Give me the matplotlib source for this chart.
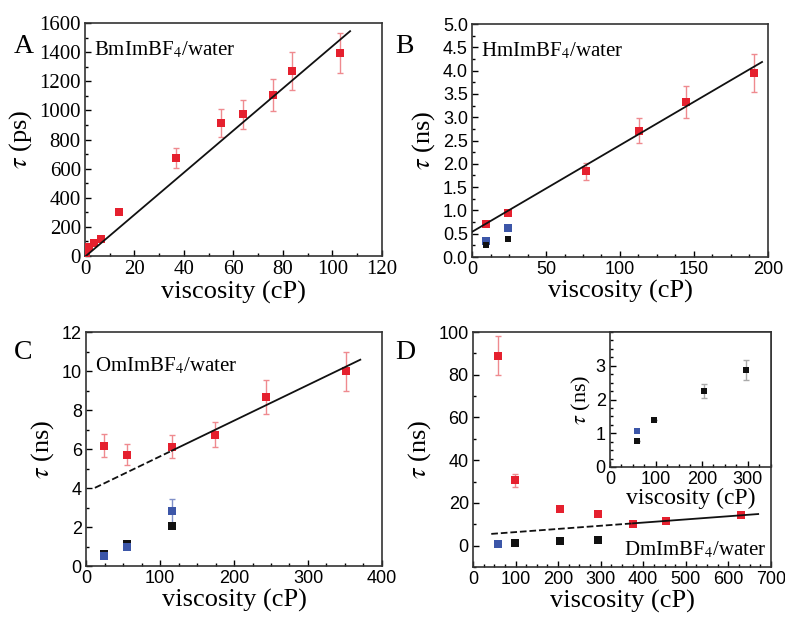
import matplotlib
matplotlib.use("Agg")
import matplotlib.pyplot as plt
from matplotlib.ticker import MultipleLocator
import numpy as np

plt.rcParams['mathtext.fontset'] = 'stix'
SERIF = 'Liberation Serif'
SANS = 'Liberation Sans'

RED = '#e5202e'
ERRRED = '#ef8a8f'
BLUE = '#3c56a8'
BLACK = '#111111'

# ---------------- Panel A data ----------------
a_x = [0.4, 1.0, 1.8, 3.8, 6.5, 13.9, 36.7, 55.0, 63.8, 76.2, 83.9, 103.1]
a_y = [20, 45, 65, 87, 114, 300, 674, 914, 974, 1104, 1269, 1394]
a_err = [0, 0, 0, 0, 0, 0, 70, 95, 100, 110, 130, 140]
a_fit_x = [0.5, 107.2]
a_fit_slope = 14.45
a_fit_icpt = -5.0

# ---------------- Panel B data ----------------
b_x = [9.7, 24.1, 77.0, 112.6, 144.8, 190.8]
b_red = [0.71, 0.94, 1.84, 2.71, 3.33, 3.95]
b_red_err = [0, 0, 0.18, 0.27, 0.35, 0.40]
b_x2 = [9.7, 24.1]
b_blue = [0.34, 0.62]
b_black = [0.25, 0.39]
b_fit_x = [0, 196]
b_fit_slope = 0.0186
b_fit_icpt = 0.54

# ---------------- Panel C data ----------------
c_x = [24.8, 55.5, 116, 174, 243, 351.7]
c_red = [6.17, 5.71, 6.12, 6.74, 8.67, 9.98]
c_red_err = [0.6, 0.55, 0.6, 0.65, 0.85, 1.0]
c_x2 = [24.8, 55.5, 116]
c_blue = [0.51, 0.96, 2.83]
c_blue_err = [0, 0, 0.6]
c_black = [0.63, 1.15, 2.06]
c_fit_dash = [12, 116]
c_fit_solid = [116, 370.7]
c_fit_slope = 0.01832
c_fit_icpt = 3.79

# ---------------- Panel D data ----------------
d_x = [58.8, 98, 204.6, 294, 376, 453, 628.7]
d_red = [89, 30.5, 17.2, 14.8, 10.2, 11.4, 14.4]
d_red_err = [9, 3, 0, 0, 0, 0, 0]
d_blue_x = [58.8]
d_blue = [0.8]
d_black_x = [98, 204.6, 294]
d_black = [1.4, 2.3, 2.8]
d_fit_dash = [43, 376]
d_fit_solid = [376, 670]
d_fit_slope = 0.01483
d_fit_icpt = 4.86

# inset
i_blue_x = [58]
i_blue = [1.06]
i_black_x = [58, 96, 205, 295]
i_black = [0.77, 1.39, 2.25, 2.87]
i_black_err = [0, 0, 0.2, 0.3]

fig = plt.figure(figsize=(7.85, 6.19), dpi=100)

def style(ax, tickfont, ticksize):
    ax.tick_params(which='both', direction='in', top=False, right=False,
                   labelsize=ticksize, width=1.0, pad=3)
    ax.tick_params(which='major', length=4)
    ax.tick_params(which='minor', length=2)
    for lab in ax.get_xticklabels() + ax.get_yticklabels():
        lab.set_fontfamily(tickfont)
    for s in ax.spines.values():
        s.set_linewidth(1.2)
        s.set_color('#333333')

def labels(ax, unit):
    ax.set_xlabel('viscosity (cP)', family=SERIF, fontsize=19, labelpad=1)
    ax.set_ylabel(r'$\tau$ (' + unit + ')', family=SERIF, fontsize=19, labelpad=4)

def sq(ax, x, y, c, err=None, ecolor=ERRRED, ms=6):
    if err is not None:
        ax.errorbar(x, y, yerr=err, fmt='none', ecolor=ecolor, elinewidth=1,
                    capsize=2.5, capthick=1, zorder=2)
    ax.plot(x, y, 's', color=c, ms=ms, mew=0, zorder=3)

def fit(ax, xs, slope, icpt, ls='-'):
    xs = np.array(xs, dtype=float)
    ax.plot(xs, slope * xs + icpt, ls, color='#111111', lw=1.3, zorder=4)

# ---- A ----
axA = fig.add_axes([0.1083, 0.5864, 0.378, 0.3764])
sq(axA, a_x, a_y, RED, a_err)
fit(axA, a_fit_x, a_fit_slope, a_fit_icpt)
axA.set_xlim(0, 120); axA.set_ylim(0, 1600)
axA.xaxis.set_major_locator(MultipleLocator(20)); axA.xaxis.set_minor_locator(MultipleLocator(10))
axA.yaxis.set_major_locator(MultipleLocator(200)); axA.yaxis.set_minor_locator(MultipleLocator(100))
style(axA, SERIF, 15)
labels(axA, 'ps')
axA.text(0.03, 0.93, r'BmImBF$_4$/water', transform=axA.transAxes, family=SERIF,
         fontsize=15, va='top', ha='left')
fig.text(0.018, 0.915, 'A', family=SERIF, fontsize=20)

# ---- B ----
axB = fig.add_axes([0.6013, 0.5848, 0.377, 0.3764])
sq(axB, b_x, b_red, RED, b_red_err)
sq(axB, b_x2, b_blue, BLUE)
sq(axB, b_x2, b_black, BLACK, ms=5)
fit(axB, b_fit_x, b_fit_slope, b_fit_icpt)
axB.set_xlim(0, 200); axB.set_ylim(0, 5)
axB.xaxis.set_major_locator(MultipleLocator(50)); axB.xaxis.set_minor_locator(MultipleLocator(12.5))
axB.yaxis.set_major_locator(MultipleLocator(0.5)); axB.yaxis.set_minor_locator(MultipleLocator(0.25))
axB.yaxis.set_major_formatter(matplotlib.ticker.FormatStrFormatter('%.1f'))
style(axB, SANS, 13)
labels(axB, 'ns')
axB.text(0.03, 0.93, r'HmImBF$_4$/water', transform=axB.transAxes, family=SERIF,
         fontsize=15, va='top', ha='left')
fig.text(0.503, 0.915, 'B', family=SERIF, fontsize=20)

# ---- C ----
axC = fig.add_axes([0.1096, 0.0856, 0.377, 0.378])
sq(axC, c_x, c_red, RED, c_red_err)
sq(axC, c_x2, c_black, BLACK)
sq(axC, c_x2, c_blue, BLUE, c_blue_err, ecolor='#8090c8')
fit(axC, c_fit_dash, c_fit_slope, c_fit_icpt, '--')
fit(axC, c_fit_solid, c_fit_slope, c_fit_icpt, '-')
axC.set_xlim(0, 400); axC.set_ylim(0, 12)
axC.xaxis.set_major_locator(MultipleLocator(100)); axC.xaxis.set_minor_locator(MultipleLocator(25))
axC.yaxis.set_major_locator(MultipleLocator(2)); axC.yaxis.set_minor_locator(MultipleLocator(1))
style(axC, SANS, 13)
labels(axC, 'ns')
axC.text(0.03, 0.9, r'OmImBF$_4$/water', transform=axC.transAxes, family=SERIF,
         fontsize=15, va='top', ha='left')
fig.text(0.018, 0.42, 'C', family=SERIF, fontsize=20)

# ---- D ----
axD = fig.add_axes([0.6025, 0.084, 0.3796, 0.3796])
sq(axD, d_x, d_red, RED, d_red_err)
sq(axD, d_blue_x, d_blue, BLUE)
sq(axD, d_black_x, d_black, BLACK)
fit(axD, d_fit_dash, d_fit_slope, d_fit_icpt, '--')
fit(axD, d_fit_solid, d_fit_slope, d_fit_icpt, '-')
axD.set_xlim(0, 700); axD.set_ylim(-10, 100)
axD.xaxis.set_major_locator(MultipleLocator(100)); axD.xaxis.set_minor_locator(MultipleLocator(25))
axD.yaxis.set_major_locator(MultipleLocator(20)); axD.yaxis.set_minor_locator(MultipleLocator(10))
style(axD, SANS, 13)
labels(axD, 'ns')
axD.text(0.985, 0.03, r'DmImBF$_4$/water', transform=axD.transAxes, family=SERIF,
         fontsize=15, va='bottom', ha='right')
fig.text(0.503, 0.42, 'D', family=SERIF, fontsize=20)

# ---- inset ----
axI = fig.add_axes([0.777, 0.2456, 0.205, 0.218])
sq(axI, i_blue_x, i_blue, BLUE, ms=4.5)
sq(axI, i_black_x, i_black, BLACK, i_black_err, ecolor='#aaaaaa', ms=4.5)
axI.set_xlim(0, 350); axI.set_ylim(0, 4)
axI.xaxis.set_major_locator(MultipleLocator(100)); axI.xaxis.set_minor_locator(MultipleLocator(25))
axI.yaxis.set_minor_locator(MultipleLocator(0.25))
axI.set_yticks([0, 1, 2, 3])
style(axI, SANS, 13)
axI.set_xlabel('viscosity (cP)', family=SERIF, fontsize=17, labelpad=0)
axI.set_ylabel(r'$\tau$ (ns)', family=SERIF, fontsize=16, labelpad=2)

fig.savefig('out.png', dpi=100)
